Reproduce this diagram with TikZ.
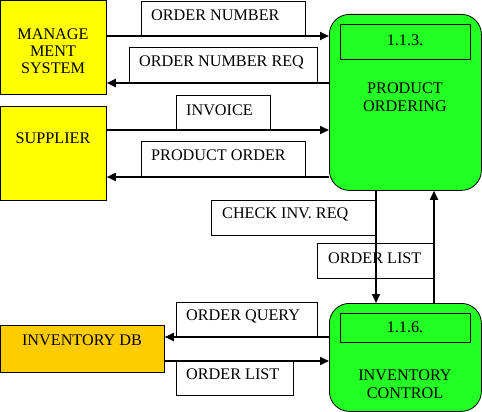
\documentclass[tikz,border=0pt]{standalone}
\usepackage{fontspec}
\setmainfont{Liberation Serif}
\usetikzlibrary{arrows.meta,calc}
\definecolor{yel}{HTML}{FFFF00}
\definecolor{grn}{HTML}{22FF22}
\definecolor{org}{HTML}{FFCC00}
\begin{document}
\begin{tikzpicture}[x=1pt,y=-1pt,
  every node/.style={font=\fontsize{16.2}{18}\selectfont, inner sep=0pt},
  ext/.style={draw=black, line width=0.8pt, anchor=north west},
  proc/.style={draw=black, fill=grn, line width=0.8pt, rounded corners=20pt, anchor=north west},
  idbox/.style={draw=black, line width=0.8pt, anchor=north west},
  lblbox/.style={draw=black, fill=white, line width=0.6pt, anchor=north west},
  txt/.style={anchor=west},
  flow/.style={line width=1.8pt, -{Triangle[length=9pt,width=8pt]}},
  plain/.style={line width=1.8pt}]
\useasboundingbox (0,0) rectangle (482,412);
% external entities
\node[ext, fill=yel, minimum width=106pt, minimum height=94pt] (ms) at (0,0) {};
\node[align=center] (mst) at (53,51) {MANAGE\\[-1pt]MENT\\[-1pt]SYSTEM};
\node[ext, fill=yel, minimum width=106pt, minimum height=94pt] (sup) at (0,106) {};
\node (supt) at (53,138) {SUPPLIER};
\node[ext, fill=org, minimum width=164pt, minimum height=47pt] (db) at (0,325) {};
\node (dbt) at (82,340) {INVENTORY DB};
% processes
\node[proc, minimum width=152pt, minimum height=176pt] (po) at (329,14) {};
\node[idbox, minimum width=130pt, minimum height=35pt] (poid) at (340,24) {};
\node (poidt) at (405,40) {1.1.3.};
\node[align=center] (pot) at (405,97) {PRODUCT\\[0pt]ORDERING};
\node[proc, minimum width=152pt, minimum height=108pt] (ic) at (329,303) {};
\node[idbox, minimum width=130pt, minimum height=29pt] (icid) at (340,313) {};
\node (icidt) at (405,327) {1.1.6.};
\node[align=center] (ict) at (405,384) {INVENTORY\\[0pt]CONTROL};
% label boxes
\node[lblbox, minimum width=164pt, minimum height=35pt] (l1) at (141,1) {};
\node[txt] (l1t) at (151,15) {ORDER NUMBER};
\node[lblbox, minimum width=188pt, minimum height=36pt] (l2) at (129,47) {};
\node[txt] (l2t) at (139,62) {ORDER NUMBER REQ};
\node[lblbox, minimum width=94pt, minimum height=35pt] (l3) at (176,95) {};
\node[txt] (l3t) at (186,110) {INVOICE};
\node[lblbox, minimum width=164pt, minimum height=36pt] (l4) at (141,141) {};
\node[txt] (l4t) at (151,155) {PRODUCT ORDER};
\node[lblbox, minimum width=165pt, minimum height=35pt] (l5) at (211,200) {};
\node[txt] (l5t) at (222,214) {CHECK INV. REQ};
\node[lblbox, minimum width=117pt, minimum height=35pt] (l6) at (317,243) {};
\node[txt] (l6t) at (328,258) {ORDER LIST};
\node[lblbox, minimum width=141pt, minimum height=35pt] (l7) at (176,302) {};
\node[txt] (l7t) at (186,316) {ORDER QUERY};
\node[lblbox, minimum width=117pt, minimum height=34pt] (l8) at (176,361) {};
\node[txt] (l8t) at (186,374) {ORDER LIST};
% flows
\draw[flow] (ms.east |- 0,36) -- (po.west |- 0,36);
\draw[flow] (po.west |- 0,83) -- (ms.east |- 0,83);
\draw[flow] (sup.east |- 0,130) -- (po.west |- 0,130);
\draw[flow] (po.west |- 0,177) -- (sup.east |- 0,177);
\draw[flow] (po.south -| 376,0) -- (ic.north -| 376,0);
\draw[flow] (ic.north -| 434,0) -- (po.south -| 434,0);
\draw[flow] (ic.west |- 0,337) -- (db.east |- 0,337);
\draw[flow] (db.east |- 0,361) -- (ic.west |- 0,361);
\end{tikzpicture}
\end{document}
